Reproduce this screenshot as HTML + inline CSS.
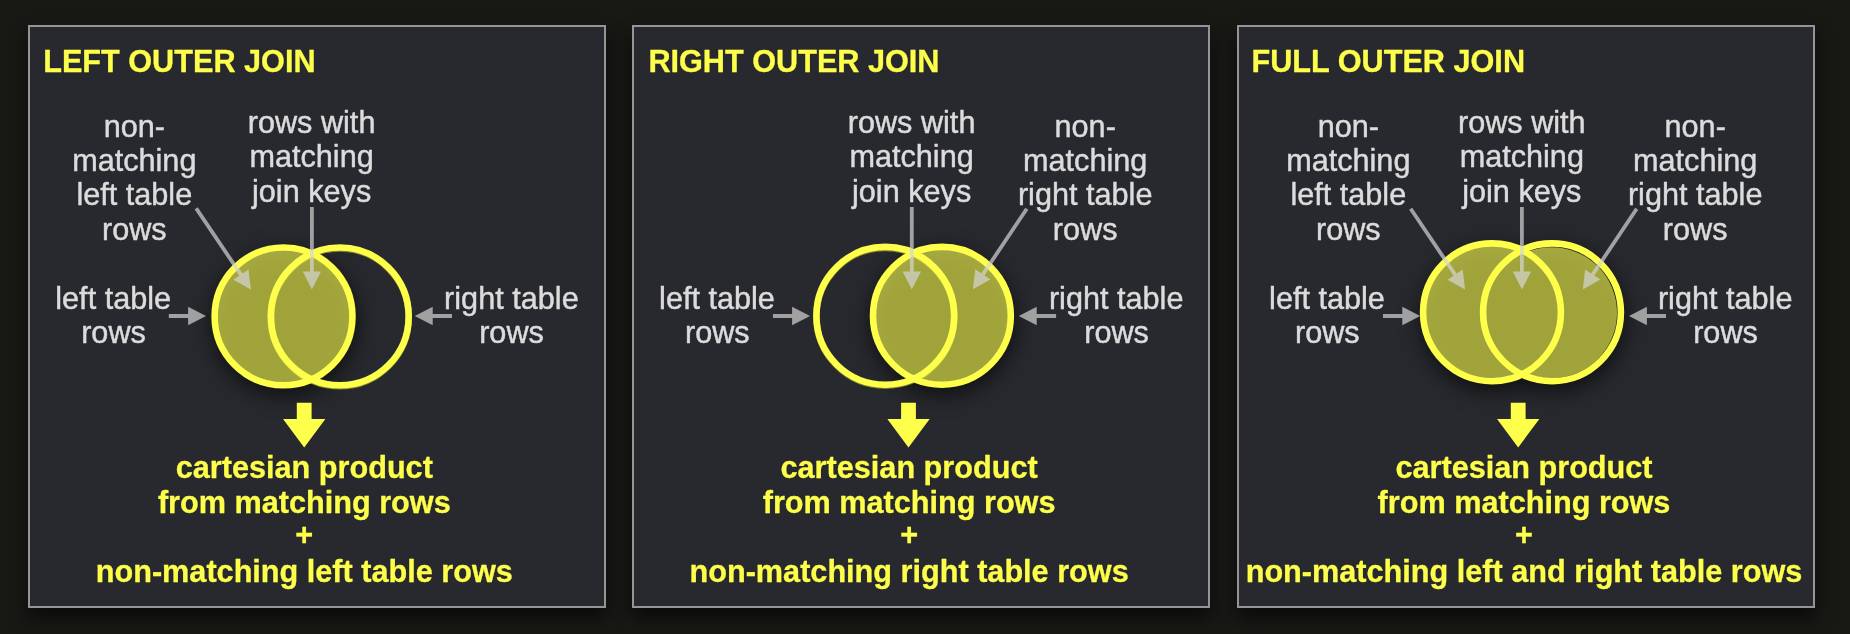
<!DOCTYPE html>
<html><head><meta charset="utf-8"><title>Outer joins</title>
<style>
html,body{margin:0;padding:0;background:#181815;}
body{width:1850px;height:634px;overflow:hidden;position:relative;}
svg{position:absolute;left:0;top:0;display:block;will-change:transform;}
svg text{font-family:"Liberation Sans",sans-serif;stroke-linejoin:round;}
svg text.r{stroke:#dcdcdc;stroke-width:0.45px;}
svg text.b{stroke:#fdff4a;stroke-width:0.3px;}
</style></head><body>
<svg width="1850" height="634" viewBox="0 0 1850 634">
<defs>
<filter id="ps" x="-20%" y="-20%" width="140%" height="140%" color-interpolation-filters="sRGB">
<feGaussianBlur in="SourceAlpha" stdDeviation="10"/><feOffset dx="0" dy="10" result="b"/>
<feComponentTransfer><feFuncA type="linear" slope="0.6"/></feComponentTransfer>
<feMerge><feMergeNode/><feMergeNode in="SourceGraphic"/></feMerge>
</filter>
<filter id="rs" x="-20%" y="-20%" width="140%" height="140%" color-interpolation-filters="sRGB">
<feGaussianBlur in="SourceGraphic" stdDeviation="0.5"/><feOffset dx="-0.4" dy="1.1"/>
</filter>
<filter id="sh" x="-50%" y="-50%" width="200%" height="200%" color-interpolation-filters="sRGB">
<feGaussianBlur in="SourceGraphic" stdDeviation="11"/><feOffset dx="1" dy="7"/>
</filter>
</defs>
<rect x="0" y="0" width="1850" height="634" fill="#181815"/>

<rect x="29" y="26" width="576" height="581" fill="#28292e" stroke="#959595" stroke-width="2" filter="url(#ps)"/>
<rect x="633" y="26" width="576" height="581" fill="#28292e" stroke="#959595" stroke-width="2" filter="url(#ps)"/>
<rect x="1238" y="26" width="576" height="581" fill="#28292e" stroke="#959595" stroke-width="2" filter="url(#ps)"/>
<text x="43.2" y="72" text-anchor="start" font-size="30.65" fill="#fdff4a" font-weight="bold" class="b">LEFT OUTER JOIN</text>
<g filter="url(#sh)">
<circle cx="283.55" cy="316.4" r="72.2" fill="#000" fill-opacity="0.62"/>
</g>
<circle cx="339.8" cy="316.4" r="68.9" fill="none" stroke="#8a8b2a" stroke-width="6.6" stroke-opacity="0.9" filter="url(#rs)"/>
<path d="M214.65,316.4 a68.9,68.9 0 1,0 137.8,0 a68.9,68.9 0 1,0 -137.8,0Z" fill="rgba(250,255,84,0.62)"/>
<circle cx="283.55" cy="316.4" r="68.9" fill="none" stroke="#fdff4a" stroke-width="6.6"/><circle cx="339.8" cy="316.4" r="68.9" fill="none" stroke="#fdff4a" stroke-width="6.6"/>
<text x="134.3" y="136.7" text-anchor="middle" font-size="30.65" fill="#dcdcdc" class="r">non-</text>
<text x="134.3" y="171.02999999999997" text-anchor="middle" font-size="30.65" fill="#dcdcdc" class="r">matching</text>
<text x="134.3" y="205.35999999999999" text-anchor="middle" font-size="30.65" fill="#dcdcdc" class="r">left table</text>
<text x="134.3" y="239.69" text-anchor="middle" font-size="30.65" fill="#dcdcdc" class="r">rows</text>
<text x="311.6" y="133.0" text-anchor="middle" font-size="30.65" fill="#dcdcdc" class="r">rows with</text>
<text x="311.6" y="167.4" text-anchor="middle" font-size="30.65" fill="#dcdcdc" class="r">matching</text>
<text x="311.6" y="201.8" text-anchor="middle" font-size="30.65" fill="#dcdcdc" class="r">join keys</text>
<path d="M194.63,209.46 L239.31,275.63 L233.30,279.69 L250.90,289.40 L248.47,269.44 L242.46,273.50 L197.77,207.34Z" fill="rgba(212,212,212,0.70)"/>
<path d="M310.00,207.00 L310.00,271.60 L302.75,271.60 L311.90,289.50 L321.05,271.60 L313.80,271.60 L313.80,207.00Z" fill="rgba(212,212,212,0.70)"/>
<path d="M168.80,317.90 L188.10,317.90 L188.10,325.15 L206.00,316.00 L188.10,306.85 L188.10,314.10 L168.80,314.10Z" fill="rgba(212,212,212,0.70)"/>
<path d="M452.00,314.10 L432.70,314.10 L432.70,306.85 L414.80,316.00 L432.70,325.15 L432.70,317.90 L452.00,317.90Z" fill="rgba(212,212,212,0.70)"/>
<text x="113.2" y="308.6" text-anchor="middle" font-size="30.65" fill="#dcdcdc" class="r">left table</text>
<text x="113.5" y="342.7" text-anchor="middle" font-size="30.65" fill="#dcdcdc" class="r">rows</text>
<text x="511.4" y="308.6" text-anchor="middle" font-size="30.65" fill="#dcdcdc" class="r">right table</text>
<text x="511.5" y="342.7" text-anchor="middle" font-size="30.65" fill="#dcdcdc" class="r">rows</text>
<path d="M296.8,402.8 H311.59999999999997 V418.9 H325.34999999999997 L304.2,447.4 L283.05,418.9 H296.8Z" fill="#fdff4a"/>
<text x="304.3" y="477.5" text-anchor="middle" font-size="30.65" fill="#fdff4a" font-weight="bold" class="b">cartesian product</text>
<text x="304.3" y="512.8" text-anchor="middle" font-size="30.65" fill="#fdff4a" font-weight="bold" class="b">from matching rows</text>
<text x="304.3" y="545.2" text-anchor="middle" font-size="30.65" fill="#fdff4a" font-weight="bold" class="b">+</text>
<text x="304.3" y="582.4" text-anchor="middle" font-size="30.65" fill="#fdff4a" font-weight="bold" class="b">non-matching left table rows</text>
<text x="648.4" y="72" text-anchor="start" font-size="30.65" fill="#fdff4a" font-weight="bold" class="b">RIGHT OUTER JOIN</text>
<g filter="url(#sh)">
<circle cx="941.9" cy="315.8" r="72.2" fill="#000" fill-opacity="0.62"/>
</g>
<circle cx="885.3" cy="315.8" r="68.9" fill="none" stroke="#8a8b2a" stroke-width="6.6" stroke-opacity="0.9" filter="url(#rs)"/>
<path d="M873.0,315.8 a68.9,68.9 0 1,0 137.8,0 a68.9,68.9 0 1,0 -137.8,0Z" fill="rgba(250,255,84,0.62)"/>
<circle cx="885.3" cy="315.8" r="68.9" fill="none" stroke="#fdff4a" stroke-width="6.6"/><circle cx="941.9" cy="315.8" r="68.9" fill="none" stroke="#fdff4a" stroke-width="6.6"/>
<text x="911.6" y="133.0" text-anchor="middle" font-size="30.65" fill="#dcdcdc" class="r">rows with</text>
<text x="911.6" y="167.4" text-anchor="middle" font-size="30.65" fill="#dcdcdc" class="r">matching</text>
<text x="911.6" y="201.8" text-anchor="middle" font-size="30.65" fill="#dcdcdc" class="r">join keys</text>
<text x="1085.2" y="136.7" text-anchor="middle" font-size="30.65" fill="#dcdcdc" class="r">non-</text>
<text x="1085.2" y="171.02999999999997" text-anchor="middle" font-size="30.65" fill="#dcdcdc" class="r">matching</text>
<text x="1085.2" y="205.35999999999999" text-anchor="middle" font-size="30.65" fill="#dcdcdc" class="r">right table</text>
<text x="1085.2" y="239.69" text-anchor="middle" font-size="30.65" fill="#dcdcdc" class="r">rows</text>
<path d="M1025.22,207.74 L981.28,273.37 L975.26,269.34 L972.90,289.30 L990.46,279.52 L984.44,275.48 L1028.38,209.86Z" fill="rgba(212,212,212,0.70)"/>
<path d="M909.90,207.00 L909.90,271.60 L902.65,271.60 L911.80,289.50 L920.95,271.60 L913.70,271.60 L913.70,207.00Z" fill="rgba(212,212,212,0.70)"/>
<path d="M772.90,317.90 L792.10,317.90 L792.10,325.15 L810.00,316.00 L792.10,306.85 L792.10,314.10 L772.90,314.10Z" fill="rgba(212,212,212,0.70)"/>
<path d="M1056.10,314.10 L1036.70,314.10 L1036.70,306.85 L1018.80,316.00 L1036.70,325.15 L1036.70,317.90 L1056.10,317.90Z" fill="rgba(212,212,212,0.70)"/>
<text x="717" y="308.6" text-anchor="middle" font-size="30.65" fill="#dcdcdc" class="r">left table</text>
<text x="717.3" y="342.7" text-anchor="middle" font-size="30.65" fill="#dcdcdc" class="r">rows</text>
<text x="1116.2" y="308.6" text-anchor="middle" font-size="30.65" fill="#dcdcdc" class="r">right table</text>
<text x="1116.6" y="342.7" text-anchor="middle" font-size="30.65" fill="#dcdcdc" class="r">rows</text>
<path d="M901.1,402.8 H915.9 V418.9 H929.65 L908.5,447.4 L887.35,418.9 H901.1Z" fill="#fdff4a"/>
<text x="909.1" y="477.5" text-anchor="middle" font-size="30.65" fill="#fdff4a" font-weight="bold" class="b">cartesian product</text>
<text x="909.1" y="512.8" text-anchor="middle" font-size="30.65" fill="#fdff4a" font-weight="bold" class="b">from matching rows</text>
<text x="909.1" y="545.2" text-anchor="middle" font-size="30.65" fill="#fdff4a" font-weight="bold" class="b">+</text>
<text x="909.1" y="582.4" text-anchor="middle" font-size="30.65" fill="#fdff4a" font-weight="bold" class="b">non-matching right table rows</text>
<text x="1251.5" y="72" text-anchor="start" font-size="30.65" fill="#fdff4a" font-weight="bold" class="b">FULL OUTER JOIN</text>
<g filter="url(#sh)">
<path d="M1419.8,312.3 a72.2,72.2 0 1,0 144.4,0 a72.2,72.2 0 1,0 -144.4,0Z M1479.8,312.3 a72.2,72.2 0 1,0 144.4,0 a72.2,72.2 0 1,0 -144.4,0Z" fill="#000" fill-opacity="0.62"/>
</g>
<path d="M1423.1,312.3 a68.9,68.9 0 1,0 137.8,0 a68.9,68.9 0 1,0 -137.8,0Z M1485.8500000000001,312.75 a65.60000000000001,65.60000000000001 0 1,0 131.20000000000002,0 a65.60000000000001,65.60000000000001 0 1,0 -131.20000000000002,0Z" fill="rgba(250,255,84,0.62)"/>
<circle cx="1492.0" cy="312.3" r="68.9" fill="none" stroke="#fdff4a" stroke-width="6.6"/><circle cx="1552.0" cy="312.3" r="68.9" fill="none" stroke="#fdff4a" stroke-width="6.6"/>
<text x="1348.3" y="136.7" text-anchor="middle" font-size="30.65" fill="#dcdcdc" class="r">non-</text>
<text x="1348.3" y="171.02999999999997" text-anchor="middle" font-size="30.65" fill="#dcdcdc" class="r">matching</text>
<text x="1348.3" y="205.35999999999999" text-anchor="middle" font-size="30.65" fill="#dcdcdc" class="r">left table</text>
<text x="1348.3" y="239.69" text-anchor="middle" font-size="30.65" fill="#dcdcdc" class="r">rows</text>
<text x="1521.8" y="133.0" text-anchor="middle" font-size="30.65" fill="#dcdcdc" class="r">rows with</text>
<text x="1521.8" y="167.4" text-anchor="middle" font-size="30.65" fill="#dcdcdc" class="r">matching</text>
<text x="1521.8" y="201.8" text-anchor="middle" font-size="30.65" fill="#dcdcdc" class="r">join keys</text>
<text x="1695.2" y="136.7" text-anchor="middle" font-size="30.65" fill="#dcdcdc" class="r">non-</text>
<text x="1695.2" y="171.02999999999997" text-anchor="middle" font-size="30.65" fill="#dcdcdc" class="r">matching</text>
<text x="1695.2" y="205.35999999999999" text-anchor="middle" font-size="30.65" fill="#dcdcdc" class="r">right table</text>
<text x="1695.2" y="239.69" text-anchor="middle" font-size="30.65" fill="#dcdcdc" class="r">rows</text>
<path d="M1409.13,209.86 L1453.51,275.63 L1447.50,279.68 L1465.10,289.40 L1462.67,269.44 L1456.66,273.50 L1412.27,207.74Z" fill="rgba(212,212,212,0.70)"/>
<path d="M1520.00,207.00 L1520.00,271.60 L1512.75,271.60 L1521.90,289.50 L1531.05,271.60 L1523.80,271.60 L1523.80,207.00Z" fill="rgba(212,212,212,0.70)"/>
<path d="M1635.12,207.74 L1591.17,273.46 L1585.14,269.43 L1582.80,289.40 L1600.36,279.61 L1594.33,275.58 L1638.28,209.86Z" fill="rgba(212,212,212,0.70)"/>
<path d="M1383.00,317.90 L1402.30,317.90 L1402.30,325.15 L1420.20,316.00 L1402.30,306.85 L1402.30,314.10 L1383.00,314.10Z" fill="rgba(212,212,212,0.70)"/>
<path d="M1666.00,314.10 L1646.90,314.10 L1646.90,306.85 L1629.00,316.00 L1646.90,325.15 L1646.90,317.90 L1666.00,317.90Z" fill="rgba(212,212,212,0.70)"/>
<text x="1327" y="308.6" text-anchor="middle" font-size="30.65" fill="#dcdcdc" class="r">left table</text>
<text x="1327.3" y="342.7" text-anchor="middle" font-size="30.65" fill="#dcdcdc" class="r">rows</text>
<text x="1725.2" y="308.6" text-anchor="middle" font-size="30.65" fill="#dcdcdc" class="r">right table</text>
<text x="1725.5" y="342.7" text-anchor="middle" font-size="30.65" fill="#dcdcdc" class="r">rows</text>
<path d="M1510.8,402.8 H1525.6000000000001 V418.9 H1539.3500000000001 L1518.2,447.4 L1497.05,418.9 H1510.8Z" fill="#fdff4a"/>
<text x="1524" y="477.5" text-anchor="middle" font-size="30.65" fill="#fdff4a" font-weight="bold" class="b">cartesian product</text>
<text x="1524" y="512.8" text-anchor="middle" font-size="30.65" fill="#fdff4a" font-weight="bold" class="b">from matching rows</text>
<text x="1524" y="545.2" text-anchor="middle" font-size="30.65" fill="#fdff4a" font-weight="bold" class="b">+</text>
<text x="1524" y="582.4" text-anchor="middle" font-size="30.65" fill="#fdff4a" font-weight="bold" class="b">non-matching left and right table rows</text>
</svg></body></html>
